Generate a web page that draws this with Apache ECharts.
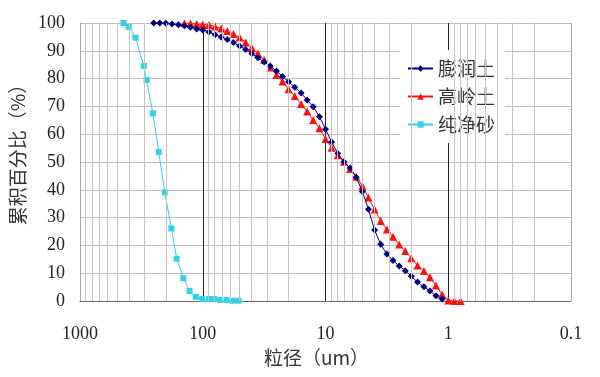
<!DOCTYPE html>
<html>
<head>
<meta charset="utf-8">
<script src="https://cdn.jsdelivr.net/npm/echarts@6/dist/echarts.min.js"></script>
<style>
  html, body { margin: 0; padding: 0; background: #fff; }
  #chart { width: 600px; height: 377px; }
</style>
</head>
<body>
<div id="chart"></div>
<script>
// 膨润土: particle size (um) and cumulative percent
const bentoniteSize = [251, 224, 200, 178, 158, 141, 126, 112, 100, 89.1, 79.4, 70.8, 63.1, 56.2, 50.1, 44.7,
  39.8, 35.5, 31.6, 28.2, 25.1, 22.4, 20.0, 17.8, 15.8, 14.1, 12.6, 11.2, 10.0, 8.91, 7.94, 7.08, 6.31, 5.62,
  5.01, 4.47, 3.98, 3.55, 3.16, 2.82, 2.51, 2.24, 2.00, 1.78, 1.58, 1.41, 1.26, 1.12]
const bentoniteValue = [100, 100, 99.9, 99.6, 99.4, 99.0, 98.5, 97.8, 97.5, 96.8, 95.8, 95.0, 94.1, 93.0, 91.7, 90.5,
  89.0, 87.5, 86.0, 84.5, 82.7, 80.8, 78.9, 76.9, 74.8, 72.3, 69.9, 66.3, 61.8, 57.2, 53.1, 50.1, 47.8, 44.5,
  39.4, 33.0, 25.5, 20.4, 16.9, 14.6, 12.6, 10.9, 8.9, 6.8, 5.1, 3.6, 1.9, 0.7]

// 高岭土
const kaolinSize = [141, 126, 112, 100, 89.1, 79.4, 70.8, 63.1, 56.2, 50.1, 44.7, 39.8, 35.5, 31.6, 28.2, 25.1,
  22.4, 20.0, 17.8, 15.8, 14.1, 12.6, 11.2, 10.0, 8.91, 7.94, 7.08, 6.31, 5.62, 5.01, 4.47, 3.98, 3.55, 3.16,
  2.82, 2.51, 2.24, 2.00, 1.78, 1.58, 1.41, 1.26, 1.12, 1.00, 0.891, 0.794]
const kaolinValue = [99.9, 99.8, 99.6, 99.5, 99.3, 98.7, 98.0, 97.1, 96.0, 94.8, 93.0, 91.0, 89.0, 86.7, 84.0, 81.3,
  79.0, 76.2, 73.7, 70.9, 68.2, 65.1, 62.1, 58.3, 55.1, 52.4, 50.1, 47.5, 44.7, 41.4, 37.2, 32.9, 28.8, 25.7,
  23.1, 20.3, 18.0, 15.4, 12.8, 10.8, 8.5, 5.6, 2.3, 0.2, 0, 0]

// 纯净砂
const sandSize = [442, 401, 353, 302, 287, 255, 228, 204, 180, 163, 144, 128, 114, 101, 89, 81, 72, 64, 57, 51]
const sandValue = [100, 98.6, 94.7, 84.5, 79.5, 67.5, 53.6, 39.1, 26.1, 15.2, 8.2, 3.6, 1.5, 0.7, 0.7, 0.7, 0.4, 0.4, 0.1, 0.1]

// x tick labels and minor log gridlines (2..9 of each decade)
const xTickLabels = { 0.1: '0.1', 1: '1', 10: '10', 100: '100', 1000: '1000' }
const minorGrid = [0.2, 0.3, 0.4, 0.5, 0.6, 0.7, 0.8, 0.9, 2, 3, 4, 5, 6, 7, 8, 9,
  20, 30, 40, 50, 60, 70, 80, 90, 200, 300, 400, 500, 600, 700, 800, 900]

const pairs = (xs, ys) => xs.map((x, i) => [x, ys[i]])

const serif = 'Liberation Serif, serif'
const cjk = 'Noto Sans CJK SC, sans-serif'

const chart = echarts.init(document.getElementById('chart'))
chart.setOption({
  animation: false,
  grid: { left: 80, right: 29, top: 23, bottom: 76 },
  legend: {
    orient: 'vertical',
    left: 400,
    top: 50,
    padding: [9, 10, 9, 7],
    backgroundColor: '#fff',
    itemWidth: 25,
    itemHeight: 8,
    itemGap: 9,
    textStyle: { fontFamily: cjk, fontSize: 19, color: '#333' },
    data: ['膨润土', '高岭土', '纯净砂'],
  },
  xAxis: {
    type: 'log',
    logBase: 10,
    min: 0.1,
    max: 1000,
    inverse: true,
    name: '粒径（um）',
    nameLocation: 'middle',
    nameGap: 45,
    nameTextStyle: { fontFamily: cjk, fontSize: 19, color: '#333', padding: [0, 18, 0, 0] },
    axisLine: { show: true, lineStyle: { color: '#666', width: 1 } },
    axisTick: { show: false },
    axisLabel: {
      margin: 24,
      fontFamily: serif,
      fontSize: 18,
      color: '#222',
      formatter: (v) => xTickLabels[v] ?? String(v),
    },
    splitLine: { show: true, lineStyle: { color: ['#a8a8a8', '#222', '#222', '#222', '#a8a8a8'], width: 1 } },
    minorTick: { show: false },
  },
  yAxis: {
    type: 'value',
    min: 0,
    max: 100,
    interval: 10,
    name: '累积百分比（%）',
    nameLocation: 'middle',
    nameRotate: 90,
    nameGap: 53,
    nameTextStyle: { fontFamily: cjk, fontSize: 19, color: '#333', padding: [0, 0, 0, 24] },
    axisLine: { show: true, lineStyle: { color: '#a8a8a8' } },
    axisTick: { show: false },
    axisLabel: { margin: 15, fontFamily: serif, fontSize: 18, color: '#222' },
    splitLine: { lineStyle: { color: '#bdbdbd', width: 1 } },
  },
  series: [
    {
      type: 'line',
      data: [],
      silent: true,
      z: 1,
      markLine: {
        silent: true,
        symbol: 'none',
        label: { show: false },
        lineStyle: { color: '#c4c4c4', type: 'solid', width: 1 },
        data: minorGrid.map((v) => ({ xAxis: v })),
      },
    },
    {
      name: '膨润土',
      type: 'line',
      data: pairs(bentoniteSize, bentoniteValue),
      symbol: 'diamond',
      symbolSize: 7,
      itemStyle: { color: '#000080' },
      lineStyle: { color: '#000080', width: 1 },
      z: 3,
    },
    {
      name: '高岭土',
      type: 'line',
      data: pairs(kaolinSize, kaolinValue),
      symbol: 'triangle',
      symbolSize: 8,
      itemStyle: { color: '#ff1010' },
      lineStyle: { color: '#ff1010', width: 1 },
      z: 2,
    },
    {
      name: '纯净砂',
      type: 'line',
      data: pairs(sandSize, sandValue),
      symbol: 'rect',
      symbolSize: 6,
      itemStyle: { color: '#33d0e6' },
      lineStyle: { color: '#33d0e6', width: 1 },
      z: 2,
    },
  ],
})
</script>
</body>
</html>
